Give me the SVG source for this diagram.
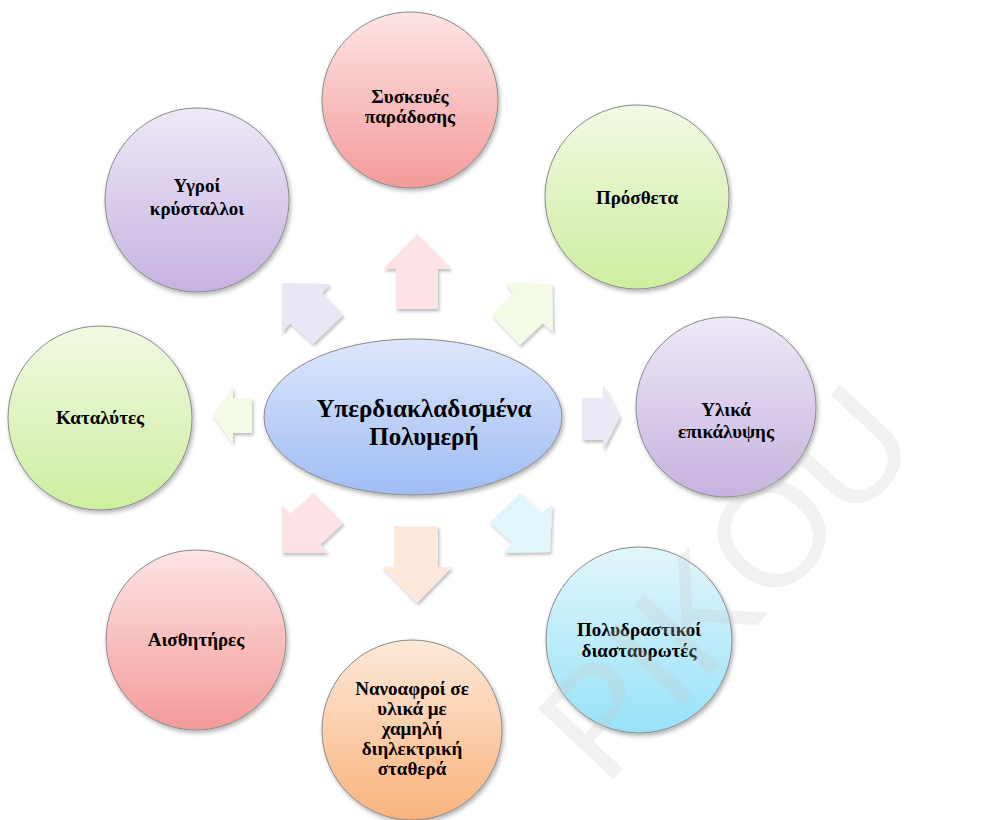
<svg xmlns="http://www.w3.org/2000/svg" width="982" height="820" viewBox="0 0 982 820">
<defs>
<linearGradient id="gRed" x1="0" y1="0" x2="0" y2="1"><stop offset="0" stop-color="#fde4e4"/><stop offset="1" stop-color="#f59a9a"/></linearGradient>
<linearGradient id="gGreen" x1="0" y1="0" x2="0" y2="1"><stop offset="0" stop-color="#f1f9e3"/><stop offset="1" stop-color="#cdee9f"/></linearGradient>
<linearGradient id="gPurple" x1="0" y1="0" x2="0" y2="1"><stop offset="0" stop-color="#eee9f7"/><stop offset="1" stop-color="#c6b2e0"/></linearGradient>
<linearGradient id="gBlue" x1="0" y1="0" x2="0" y2="1"><stop offset="0" stop-color="#e3f5fb"/><stop offset="1" stop-color="#97e2f8"/></linearGradient>
<linearGradient id="gOrange" x1="0" y1="0" x2="0" y2="1"><stop offset="0" stop-color="#fde9da"/><stop offset="1" stop-color="#f9b37c"/></linearGradient>
<linearGradient id="gCenter" x1="0" y1="0" x2="0" y2="1"><stop offset="0" stop-color="#dde7fb"/><stop offset="1" stop-color="#9fbcf4"/></linearGradient>
<filter id="sh" x="-20%" y="-20%" width="140%" height="140%"><feDropShadow dx="1.5" dy="2.5" stdDeviation="2" flood-color="#000" flood-opacity="0.3"/></filter>
<filter id="ash" x="-20%" y="-20%" width="140%" height="140%"><feDropShadow dx="1.5" dy="2.5" stdDeviation="1.5" flood-color="#000" flood-opacity="0.25"/></filter>
</defs>
<style>
.node circle, .node ellipse { stroke: #8a8a8a; stroke-width: 1; filter: url(#sh); }
.lbl { font-family: "Liberation Serif", "Times New Roman", serif; font-weight: bold; font-size: 19px; text-anchor: middle; fill: #000; }
.big { font-size: 25px; }
.arr { filter: url(#ash); }
.wm { font-family: "Liberation Sans", Arial, sans-serif; font-size: 150px; fill: #c8c8c8; fill-opacity: 0.25; }
</style>
<g id="connectors">
<polygon class="arr" fill="#fde3e6" points="417,234 451,269 438,269 438,309 396,309 396,269 383,269"/>
<polygon class="arr" fill="#fde8dc" points="394,526 438,526 438,567 452,567 417,603 382,567 394,567"/>
<polygon class="arr" fill="#f3fbe6" points="213,415 233,386 233,398 252,398 252,433 233,433 233,444"/>
<polygon class="arr" fill="#ece8f6" points="582,398 603,398 603,385 620,417 603,450 603,440 582,440"/>
<polygon class="arr" fill="#ebe6f5" points="282,283 330,284 322,293 343,315 313,344 290,323 282,333"/>
<polygon class="arr" fill="#f3fbe6" points="552,284 553,332 543,323 520,345 492,315 513,293 505,283"/>
<polygon class="arr" fill="#fde3e6" points="282,506 290,514 313,493 343,523 320,545 328,553 282,553"/>
<polygon class="arr" fill="#e0f5fc" points="520,493 542,513 552,505 550,552 503,553 512,543 490,522"/>
</g>
<g id="center" class="node">
<ellipse cx="413" cy="417" rx="149" ry="78" fill="url(#gCenter)"/>
<text class="lbl big" x="424" y="417">Υπερδιακλαδισμένα</text>
<text class="lbl big" x="424" y="445">Πολυμερή</text>
</g>
<g id="n-syskeves" class="node">
<circle cx="410" cy="100" r="88" fill="url(#gRed)"/>
<text class="lbl" x="410" y="103">Συσκευές</text>
<text class="lbl" x="410" y="123">παράδοσης</text>
</g>
<g id="n-prostheta" class="node">
<circle cx="637" cy="197" r="92" fill="url(#gGreen)"/>
<text class="lbl" x="637" y="204">Πρόσθετα</text>
</g>
<g id="n-ylika" class="node">
<circle cx="726" cy="407" r="90" fill="url(#gPurple)"/>
<text class="lbl" x="726" y="416">Υλικά</text>
<text class="lbl" x="726" y="438">επικάλυψης</text>
</g>
<g id="n-polydrastikoi" class="node">
<circle cx="639" cy="640" r="93" fill="url(#gBlue)"/>
<text class="lbl" x="639" y="636">Πολυδραστικοί</text>
<text class="lbl" x="639" y="657">διασταυρωτές</text>
</g>
<g id="n-nanoafroi" class="node">
<circle cx="412" cy="730" r="90" fill="url(#gOrange)"/>
<text class="lbl" x="412" y="695">Νανοαφροί σε</text>
<text class="lbl" x="412" y="715">υλικά με</text>
<text class="lbl" x="412" y="735">χαμηλή</text>
<text class="lbl" x="412" y="755">διηλεκτρική</text>
<text class="lbl" x="412" y="775">σταθερά</text>
</g>
<g id="n-aisthitires" class="node">
<circle cx="196" cy="640" r="90" fill="url(#gRed)"/>
<text class="lbl" x="196" y="646">Αισθητήρες</text>
</g>
<g id="n-katalytes" class="node">
<circle cx="100" cy="418" r="92" fill="url(#gGreen)"/>
<text class="lbl" x="100" y="424">Καταλύτες</text>
</g>
<g id="n-ygroi" class="node">
<circle cx="197" cy="200" r="92" fill="url(#gPurple)"/>
<text class="lbl" x="197" y="192">Υγροί</text>
<text class="lbl" x="197" y="215">κρύσταλλοι</text>
</g>
<text class="wm" transform="translate(605,788) rotate(-47)">PIKOU</text>
</svg>
